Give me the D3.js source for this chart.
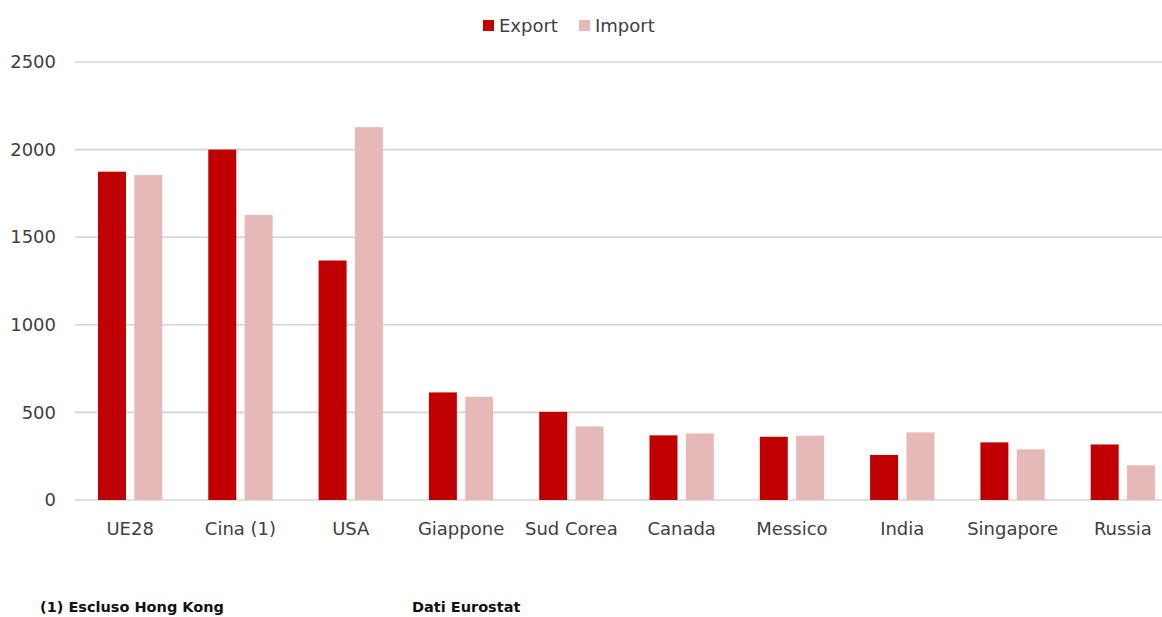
<!DOCTYPE html>
<html>
<head>
<meta charset="utf-8">
<script src="https://cdn.jsdelivr.net/npm/d3@7"></script>
<style>
  html, body { margin: 0; padding: 0; background: #fff; }
  svg { display: block; }
  text { font-family: "DejaVu Sans", sans-serif; }
</style>
</head>
<body>
<svg id="chart" width="1162" height="617"></svg>
<script>
// Trade partners and yearly values (billions)
const categories = ["UE28", "Cina (1)", "USA", "Giappone", "Sud Corea", "Canada", "Messico", "India", "Singapore", "Russia"];
const seriesNames = ["Export", "Import"];
const exportValues = [1874, 2000, 1367, 614, 503, 369, 361, 257, 329, 317];
const importValues = [1855, 1627, 2128, 589, 420, 380, 367, 386, 289, 198];
const yTicks = [0, 500, 1000, 1500, 2000, 2500];
const footnote = "(1) Escluso Hong Kong";
const source = "Dati Eurostat";

const colors = { Export: "#C00000", Import: "#E6B8B7" };

const svg = d3.select("#chart");
const plot = { left: 75, right: 1178, top: 62, bottom: 500 };

const x = d3.scaleBand()
  .domain(categories)
  .range([plot.left, plot.right])
  .paddingInner(0.417)
  .paddingOuter(0.2085);

const xInner = d3.scaleBand()
  .domain(seriesNames)
  .range([0, x.bandwidth()])
  .paddingInner(0.23);

const y = d3.scaleLinear()
  .domain([0, 2500])
  .range([plot.bottom, plot.top]);

// Horizontal gridlines
svg.append("g")
  .selectAll("line")
  .data(yTicks)
  .join("line")
  .attr("x1", plot.left)
  .attr("x2", plot.right)
  .attr("y1", d => y(d))
  .attr("y2", d => y(d))
  .attr("stroke", "#D4D4D4")
  .attr("stroke-width", 1.6);

// Y axis labels
const yAxis = d3.axisLeft(y)
  .tickValues(yTicks)
  .tickFormat(d3.format("d"))
  .tickSize(0)
  .tickPadding(0);
const yG = svg.append("g")
  .attr("transform", `translate(56,0)`)
  .call(yAxis);
yG.select(".domain").remove();
yG.selectAll("text")
  .attr("font-family", "DejaVu Sans, sans-serif")
  .attr("font-size", 18)
  .attr("fill", "#404040");

// Bars
const rows = categories.map((c, i) => ({
  category: c,
  values: [
    { series: "Export", value: exportValues[i] },
    { series: "Import", value: importValues[i] }
  ]
}));

const groups = svg.append("g")
  .selectAll("g")
  .data(rows)
  .join("g")
  .attr("transform", d => `translate(${x(d.category)},0)`);

groups.selectAll("rect")
  .data(d => d.values)
  .join("rect")
  .attr("x", d => xInner(d.series))
  .attr("width", xInner.bandwidth())
  .attr("y", d => y(d.value))
  .attr("height", d => y(0) - y(d.value))
  .attr("fill", d => colors[d.series]);

// X axis labels
const xAxis = d3.axisBottom(x).tickSize(0).tickPadding(0);
const xG = svg.append("g")
  .attr("transform", `translate(0,${plot.bottom})`)
  .call(xAxis);
xG.select(".domain").remove();
xG.selectAll("text")
  .attr("font-family", "DejaVu Sans, sans-serif")
  .attr("font-size", 18)
  .attr("fill", "#404040")
  .attr("dy", null)
  .attr("y", 35);

// Legend
const legend = svg.append("g");
const legendItems = [
  { name: "Export", sx: 483, tx: 499 },
  { name: "Import", sx: 579, tx: 595 }
];
legendItems.forEach(it => {
  legend.append("rect")
    .attr("x", it.sx).attr("y", 20)
    .attr("width", 11).attr("height", 11)
    .attr("fill", colors[it.name]);
  legend.append("text")
    .attr("x", it.tx).attr("y", 32)
    .attr("font-size", 18)
    .attr("fill", "#404040")
    .text(it.name);
});

// Footnotes
svg.append("text")
  .attr("x", 40).attr("y", 612)
  .attr("font-size", 14.5)
  .attr("font-weight", "bold")
  .attr("fill", "#111")
  .text(footnote);
svg.append("text")
  .attr("x", 412).attr("y", 612)
  .attr("font-size", 14.5)
  .attr("font-weight", "bold")
  .attr("fill", "#111")
  .text(source);
</script>
</body>
</html>
